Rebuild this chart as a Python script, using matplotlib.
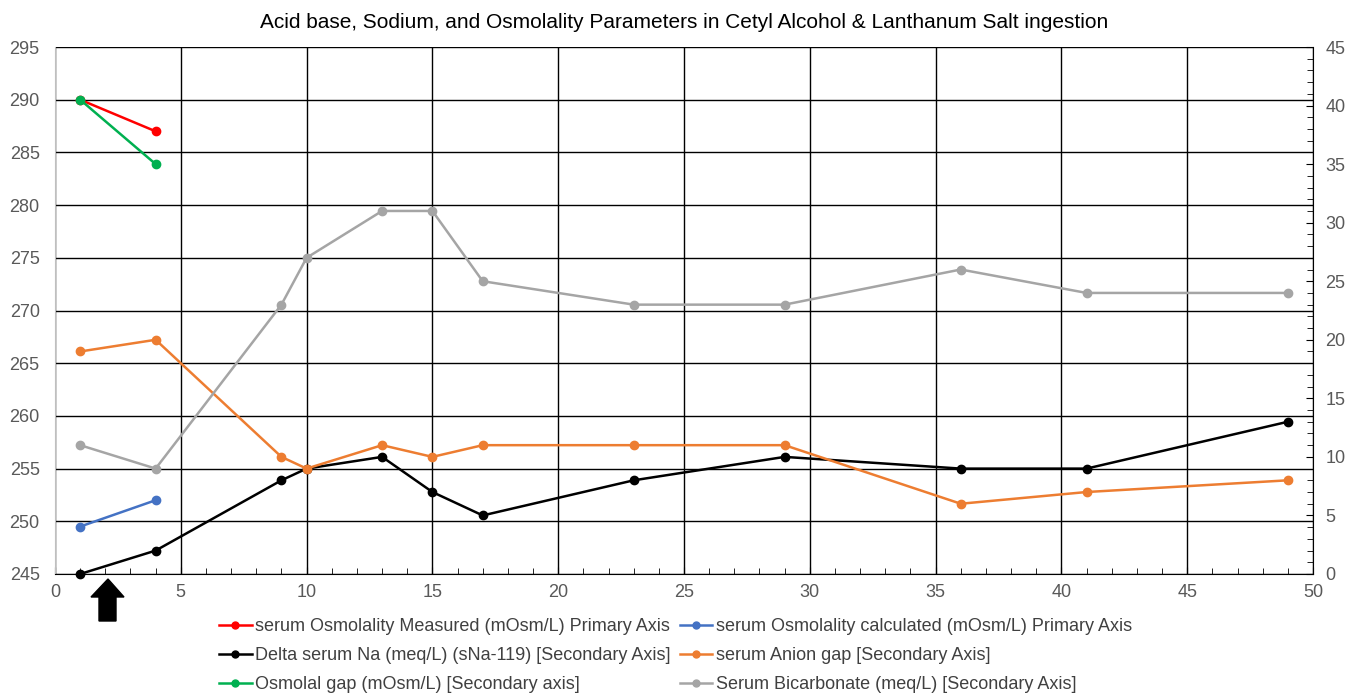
import matplotlib
matplotlib.use("Agg")
import matplotlib.pyplot as plt
from matplotlib.lines import Line2D
from matplotlib.patches import Polygon
from matplotlib.ticker import MultipleLocator

plt.rcParams['font.family'] = ['Liberation Sans', 'DejaVu Sans']

title = "Acid base, Sodium, and Osmolality Parameters in Cetyl Alcohol & Lanthanum Salt ingestion"

x_short = [1, 4]
osm_measured = [290, 287]
osm_calculated = [249.5, 252]
osmolal_gap = [40.5, 35]

x_long = [1, 4, 9, 10, 13, 15, 17, 23, 29, 36, 41, 49]
delta_na = [0, 2, 8, 9, 10, 7, 5, 8, 10, 9, 9, 13]
anion_gap = [19, 20, 10, 9, 11, 10, 11, 11, 11, 6, 7, 8]
bicarb = [11, 9, 23, 27, 31, 31, 25, 23, 23, 26, 24, 24]

labels = {
    'red': "serum Osmolality Measured (mOsm/L) Primary Axis",
    'blue': "serum Osmolality calculated (mOsm/L) Primary Axis",
    'black': "Delta serum Na (meq/L) (sNa-119) [Secondary Axis]",
    'orange': "serum Anion gap [Secondary Axis]",
    'green': "Osmolal gap (mOsm/L) [Secondary axis]",
    'gray': "Serum Bicarbonate (meq/L) [Secondary Axis]",
}
colors = {'red': '#ff0000', 'blue': '#4472c4', 'black': '#000000',
          'orange': '#ed7d31', 'green': '#00b050', 'gray': '#a5a5a5'}

W, H = 1354, 694
fig = plt.figure(figsize=(W / 100, H / 100), dpi=100)
ax = fig.add_axes([55 / W, 1 - 574 / H, (1313 - 55) / W, (574 - 47) / H])
ax2 = ax.twinx()

lw = 1.8
ms = 6
tick_color = '#595959'
tick_fs = 13

ax.set_xlim(0, 50)
ax.set_ylim(245, 295)
ax2.set_ylim(0, 45)

ax.xaxis.set_major_locator(MultipleLocator(5))
ax.xaxis.set_minor_locator(MultipleLocator(1))
ax.yaxis.set_major_locator(MultipleLocator(5))
ax2.yaxis.set_major_locator(MultipleLocator(5))
ax2.yaxis.set_minor_locator(MultipleLocator(1))

ax.grid(True, which='major', color='black', linewidth=1.0)
ax.set_axisbelow(True)

for a in (ax, ax2):
    for s in a.spines.values():
        s.set_visible(False)
ax.spines['bottom'].set_visible(True)
ax.spines['bottom'].set_color('black')
ax.spines['left'].set_visible(True)
ax.spines['left'].set_color('#bfbfbf')
ax2.spines['right'].set_visible(True)
ax2.spines['right'].set_color('black')

ax.tick_params(axis='x', which='major', direction='in', length=5, color='black',
               labelsize=tick_fs, labelcolor=tick_color, pad=7)
ax.tick_params(axis='x', which='minor', direction='in', length=4, color='black')
ax.tick_params(axis='y', which='major', length=0, labelsize=tick_fs, labelcolor=tick_color, pad=11)
ax2.tick_params(axis='y', which='major', direction='in', length=5, color='black',
                labelsize=tick_fs, labelcolor=tick_color, pad=9)
ax2.tick_params(axis='y', which='minor', direction='in', length=4, color='black')

def plot(a, x, y, key, z):
    a.plot(x, y, color=colors[key], linewidth=lw, marker='o', markersize=ms,
           label=labels[key], zorder=z, clip_on=False)

plot(ax, x_short, osm_measured, 'red', 3)
plot(ax, x_short, osm_calculated, 'blue', 3)
plot(ax2, x_long, delta_na, 'black', 3)
plot(ax2, x_long, anion_gap, 'orange', 4)
plot(ax2, x_short, osmolal_gap, 'green', 5)
plot(ax2, x_long, bicarb, 'gray', 6)

fig.text((55 + 1313) / 2 / W, 1 - 22 / H, title, ha='center', va='center',
         fontsize=15, color='black')

order = ['red', 'black', 'green', 'blue', 'orange', 'gray']
handles = [Line2D([], [], color=colors[k], linewidth=lw, marker='o', markersize=5)
           for k in order]
leg = fig.legend(handles, [labels[k] for k in order], ncol=2, loc='upper left',
                 bbox_to_anchor=(212 / W, 1 - 611 / H), frameon=False,
                 fontsize=13.0, handlelength=1.8, handletextpad=0.2,
                 columnspacing=0.5, labelspacing=0.66, borderaxespad=0)
for t in leg.get_texts():
    t.set_color('#404040')

# black up-arrow annotation below the x axis
arrow_px = [(108, 579), (124, 597), (116, 597), (116, 621), (99, 621), (99, 597), (91, 597)]
arrow = Polygon([(px / W, 1 - py / H) for px, py in arrow_px], closed=True,
                transform=fig.transFigure, facecolor='black', edgecolor='black')
fig.patches.append(arrow)

fig.savefig('out.png', dpi=100)
